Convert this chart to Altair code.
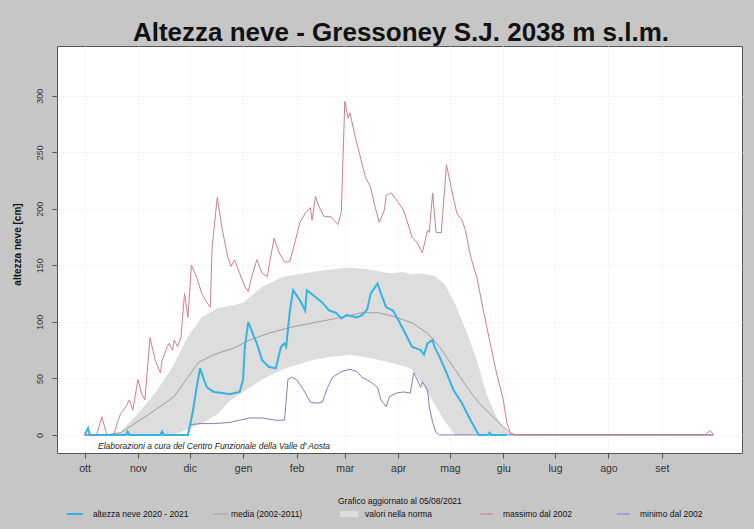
import altair as alt
import pandas as pd

# ---------------- data (day 0 = 1 ottobre 2020) ----------------
MONTH_START_DAYS = [0, 31, 61, 92, 123, 151, 182, 212, 243, 273, 304, 335]
MONTH_LABELS = ["ott", "nov", "dic", "gen", "feb", "mar", "apr", "mag", "giu", "lug", "ago", "set"]
Y_TICKS = [0, 50, 100, 150, 200, 250, 300]

obs_days = [0, 2, 3, 24, 25, 26, 44, 45, 46, 60, 61, 63, 65, 67, 69, 71, 75, 80, 84,
            90, 92, 93, 95, 98, 100, 103, 107, 111, 114, 116, 117, 119, 121, 125, 128, 129,
            134, 138, 142, 146, 149, 152, 158, 161, 164, 166, 170, 172, 175, 179, 183, 187,
            190, 195, 197, 199, 202, 203, 206, 210, 214, 219, 224, 228, 229, 234, 235, 236, 245]
obs_cm = [0, 6, 0, 0, 3, 0, 0, 3, 0, 0, 7, 22, 42, 59, 50, 42, 38, 37, 36,
          38, 49, 78, 100, 88, 81, 66, 60, 59, 78, 81, 78, 108, 128, 119, 110, 128,
          122, 117, 110, 108, 103, 106, 104, 106, 111, 125, 134, 125, 113, 110, 99, 87,
          78, 75, 71, 81, 84, 78, 69, 55, 40, 28, 13, 2, 0, 0, 2, 0, 0]

max_days = [0, 7, 10, 13, 17, 19, 21, 24, 26, 28, 31, 33, 35, 38, 41, 44, 45, 48, 49, 51,
            52, 54, 56, 58, 60, 62, 65, 68, 71, 73, 74, 77, 80, 83, 85, 87, 90, 93, 95, 97,
            100, 103, 106, 107, 110, 113, 116, 119, 122, 125, 128, 131, 132, 134, 136, 139,
            143, 147, 149, 151, 153, 154, 157, 160, 163, 166, 168, 171, 174, 175, 178, 181,
            185, 187, 190, 193, 196, 199, 200, 202, 204, 207, 210, 213, 216, 219, 221, 224,
            228, 231, 235, 239, 243, 245, 247, 249, 360, 363, 365]
max_cm = [0, 0, 16, 0, 0, 11, 19, 25, 31, 22, 49, 37, 31, 86, 66, 55, 66, 78, 81, 75,
          84, 78, 87, 125, 104, 150, 140, 125, 117, 113, 166, 210, 181, 158, 149, 155, 143, 131, 127, 140,
          155, 143, 140, 149, 174, 161, 153, 153, 170, 188, 196, 201, 190, 211, 202, 193,
          193, 186, 197, 295, 280, 285, 264, 246, 228, 219, 205, 188, 199, 212, 214, 208,
          199, 190, 175, 170, 161, 181, 179, 214, 179, 179, 239, 217, 196, 190, 181, 158,
          137, 113, 84, 55, 31, 11, 2, 0, 0, 4, 0]

min_days = [0, 60, 61, 67, 75, 84, 90, 96, 103, 111, 116, 118, 120, 123, 127, 131, 135, 138,
            141, 144, 149, 154, 158, 161, 166, 170, 172, 175, 177, 181, 185, 189, 191, 193,
            195, 196, 199, 200, 202, 204, 206, 365]
min_cm = [0, 0, 9, 10, 10, 11, 13, 15, 15, 13, 13, 49, 51, 49, 40, 29, 28, 29,
          42, 51, 56, 58, 56, 51, 47, 42, 31, 25, 34, 37, 38, 37, 55, 49,
          42, 47, 40, 25, 11, 2, 0, 0]

mean_days = [0, 12, 21, 41, 52, 60, 66, 75, 87, 96, 107, 119, 132, 146, 161, 171, 181, 190,
             199, 206, 214, 222, 229, 237, 243, 247, 250, 365]
mean_cm = [0, 0, 2, 22, 34, 51, 64, 71, 77, 84, 90, 95, 99, 103, 108, 108, 104, 99,
           90, 78, 60, 42, 28, 16, 7, 2, 0, 0]

band_days = [0, 15, 21, 31, 41, 51, 60, 68, 77, 84, 92, 103, 115, 132, 142, 154, 166, 177,
             185, 190, 195, 202, 204, 209, 215, 222, 228, 233, 239, 245, 250, 365]
band_hi = [0, 0, 3, 19, 37, 60, 87, 104, 112, 114, 117, 131, 140, 144, 146, 148, 146, 143,
           144, 142, 143, 141, 140, 133, 116, 90, 64, 37, 16, 3, 0, 0]
band_lo = [0, 0, 0, 0, 0, 0, 5, 10, 18, 30, 38, 49, 58, 66, 69, 71, 68, 64,
           61, 58, 47, 30, 25, 12, 0, 0, 0, 0, 0, 0, 0, 0]

# ---------------- style ----------------
C_OBS = "#35b4e2"
C_MAX = "#cf7f8a"
C_MIN = "#8a7cbc"
C_MEAN = "#a39c9c"
C_BAND = "#dddddd"
FONT = "Liberation Sans"

xscale = alt.Scale(domain=[-16, 381.5], nice=False, zero=False)
yscale = alt.Scale(domain=[-16, 344], nice=False, zero=False)

label_expr = f"{MONTH_LABELS}[indexof({MONTH_START_DAYS}, datum.value)]"
x_axis = alt.Axis(values=MONTH_START_DAYS, labelExpr=label_expr, title=None,
                  grid=True, gridColor="#efefef", gridDash=[2, 2], domain=False,
                  tickSize=5, tickColor="#555555", labelFontSize=10.5, labelColor="#333333",
                  labelPadding=5, labelFont=FONT)
y_axis = alt.Axis(values=Y_TICKS, title="altezza neve [cm]", grid=True, gridColor="#efefef",
                  gridDash=[2, 2], domain=False, tickSize=5, tickColor="#555555",
                  labelAngle=270, labelAlign="center", labelBaseline="bottom",
                  labelFontSize=9, labelColor="#333333", labelPadding=8, labelFont=FONT,
                  titleFont=FONT, titleFontSize=10, titleFontWeight="bold", titleColor="#111111",
                  titleAngle=270, titleX=-40, titleY=198, titleAlign="center",
                  titleBaseline="middle")

X = alt.X("giorno:Q", scale=xscale, axis=x_axis)


def Y(field):
    return alt.Y(f"{field}:Q", scale=yscale, axis=y_axis)


df_band = pd.DataFrame({"giorno": band_days, "lo": band_lo, "hi": band_hi})
df_mean = pd.DataFrame({"giorno": mean_days, "cm": mean_cm})
df_max = pd.DataFrame({"giorno": max_days, "cm": max_cm})
df_min = pd.DataFrame({"giorno": min_days, "cm": min_cm})
df_obs = pd.DataFrame({"giorno": obs_days, "cm": obs_cm})

band = alt.Chart(df_band).mark_area(color=C_BAND, opacity=1).encode(
    x=X, y=Y("lo"), y2="hi:Q")
mean_line = alt.Chart(df_mean).mark_line(color=C_MEAN, strokeWidth=1).encode(x=X, y=Y("cm"))
min_line = alt.Chart(df_min).mark_line(color=C_MIN, strokeWidth=1).encode(x=X, y=Y("cm"))
max_line = alt.Chart(df_max).mark_line(color=C_MAX, strokeWidth=1).encode(x=X, y=Y("cm"))
obs_line = alt.Chart(df_obs).mark_line(color=C_OBS, strokeWidth=2).encode(x=X, y=Y("cm"))

ONE = alt.Data(values=[{"k": 0}])


def txt(s, x, y, size=8.5, align="left", baseline="middle", **kw):
    return alt.Chart(ONE).mark_text(align=align, baseline=baseline, fontSize=size,
                                    font=FONT, **kw).encode(
        x=alt.value(x), y=alt.value(y), text=alt.value(s))


def seg(x1, x2, y, color, w=1):
    return alt.Chart(ONE).mark_rule(color=color, strokeWidth=w).encode(
        x=alt.value(x1), x2=alt.value(x2), y=alt.value(y))


title = txt("Altezza neve - Gressoney S.J. 2038 m s.l.m.", 344, -5, size=26,
            align="center", baseline="alphabetic", fontWeight="bold", color="#111111")
credit = txt("Elaborazioni a cura del Centro Funzionale della Valle d' Aosta", 41, 400,
             size=8.5, fontStyle="italic", color="#222222")

LY = 468
legend = [
    seg(10, 26, LY, C_OBS, 2),
    txt("altezza neve 2020 - 2021", 36, LY, color="#111111"),
    seg(156, 171, LY, C_MEAN, 1),
    txt("media (2002-2011)", 174, LY, color="#111111"),
    alt.Chart(ONE).mark_rect(color=C_BAND).encode(
        x=alt.value(283), x2=alt.value(301), y=alt.value(465), y2=alt.value(471)),
    txt("valori nella norma", 308, LY, color="#111111"),
    txt("Grafico aggiornato al 05/08/2021", 281, 455, color="#111111"),
    seg(423, 436, LY, C_MAX, 1),
    txt("massimo dal 2002", 446, LY, color="#111111"),
    seg(560, 573, LY, C_MIN, 1),
    txt("minimo dal 2002", 583, LY, color="#111111"),
]

chart = (
    alt.layer(band, mean_line, min_line, max_line, obs_line, title, credit, *legend)
    .properties(
        width=685, height=407,
        padding={"left": 57, "top": 46, "right": 12, "bottom": 76},
        autosize=alt.AutoSizeParams(type="none"),
        background="#c6c6c6",
    )
    .configure(font=FONT)
    .configure_view(stroke="#555555", strokeWidth=1, fill="white")
)

chart.save("out.html", embed_options={"renderer": "svg", "actions": False})
